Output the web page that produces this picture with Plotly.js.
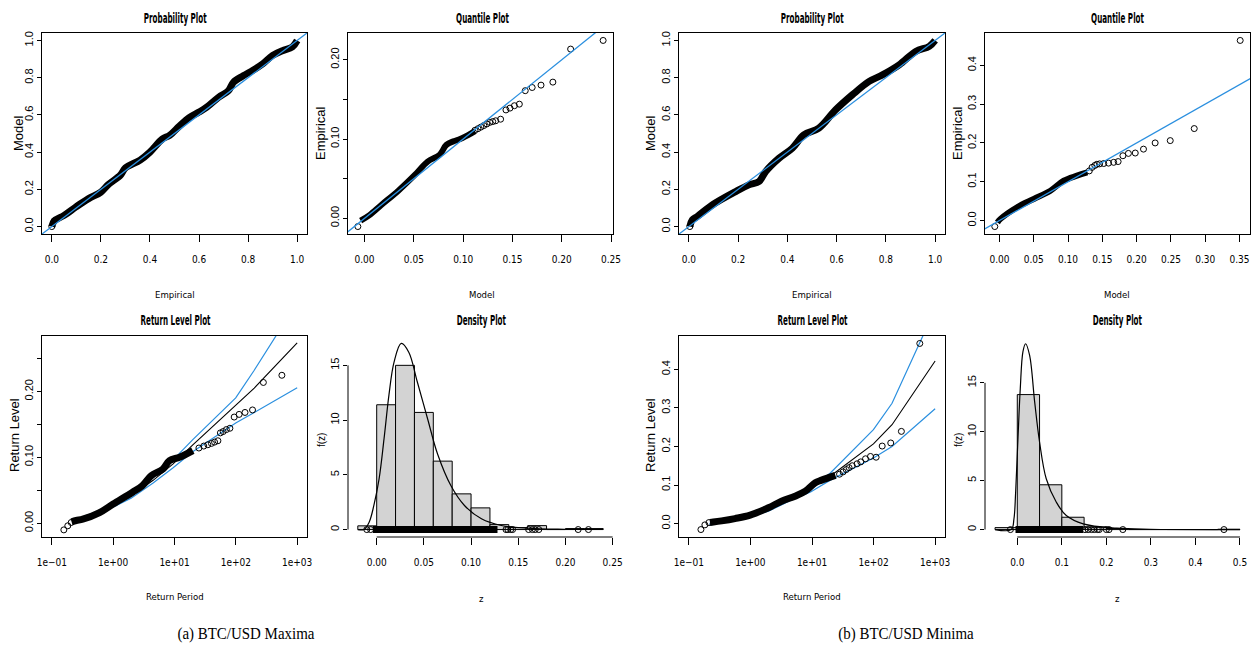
<!DOCTYPE html>
<html><head><meta charset="utf-8">
<script src="https://cdn.plot.ly/plotly-3.0.1.min.js"></script>
<style>html,body{margin:0;padding:0;background:#fff;}#chart{width:1254px;height:648px;}</style>
</head><body><div id="chart"></div>
<script>
// ================= DATA =================
// (a) Maxima - Probability plot: dense band of points (Empirical, Model)
const probEmpA = [0.000, 0.010, 0.050, 0.100, 0.150, 0.200, 0.230, 0.280, 0.300, 0.360, 0.400, 0.450, 0.480, 0.520, 0.560, 0.600, 0.630, 0.680, 0.720, 0.740, 0.780, 0.820, 0.860, 0.900, 0.940, 0.980, 1.000];
const probModA = [0.000, 0.030, 0.060, 0.107, 0.150, 0.185, 0.225, 0.277, 0.315, 0.357, 0.400, 0.470, 0.490, 0.540, 0.585, 0.615, 0.640, 0.695, 0.730, 0.775, 0.810, 0.840, 0.875, 0.920, 0.945, 0.965, 1.000];
// (b) Minima - Probability plot
const probEmpB = [0.004, 0.014, 0.034, 0.095, 0.190, 0.244, 0.285, 0.312, 0.366, 0.420, 0.467, 0.528, 0.596, 0.664, 0.732, 0.786, 0.854, 0.921, 0.976, 1.000];
const probModB = [0.000, 0.036, 0.054, 0.116, 0.188, 0.224, 0.242, 0.296, 0.367, 0.421, 0.493, 0.529, 0.627, 0.708, 0.780, 0.815, 0.869, 0.941, 0.968, 1.000];

// (a) Quantile plot: dense band (Model, Empirical) and single points
const qBandModA = [-0.004, 0.005, 0.017, 0.034, 0.051, 0.064, 0.076, 0.083, 0.090, 0.095, 0.105, 0.112];
const qBandEmpA = [-0.003, 0.004, 0.0168, 0.0345, 0.0547, 0.0716, 0.080, 0.0926, 0.097, 0.099, 0.105, 0.110];
const qPtsModA = [-0.0068, 0.112, 0.115, 0.118, 0.121, 0.124, 0.127, 0.130, 0.133, 0.138, 0.1434, 0.1475, 0.152, 0.157, 0.163, 0.170, 0.179, 0.191, 0.209, 0.242];
const qPtsEmpA = [-0.0105, 0.111, 0.113, 0.115, 0.117, 0.119, 0.121, 0.122, 0.123, 0.125, 0.1367, 0.139, 0.142, 0.144, 0.161, 0.165, 0.168, 0.1718, 0.2135, 0.2244];
// (b) Quantile plot
const qBandModB = [-0.003, 0.0015, 0.0257, 0.050, 0.0743, 0.0937, 0.113, 0.128];
const qBandEmpB = [-0.005, 0.0043, 0.0343, 0.0557, 0.077, 0.1028, 0.1156, 0.124];
const qPtsModB = [-0.0068, 0.131, 0.135, 0.139, 0.142, 0.146, 0.152, 0.159, 0.1665, 0.173, 0.180, 0.188, 0.198, 0.210, 0.227, 0.249, 0.284, 0.351];
const qPtsEmpB = [-0.0154, 0.128, 0.137, 0.142, 0.145, 0.146, 0.147, 0.148, 0.150, 0.152, 0.167, 0.173, 0.174, 0.184, 0.200, 0.206, 0.237, 0.464];
// 45-degree reference line end points (axis extent)
const diagProb = [-0.1, 1.1];
const diagQA = [-0.05, 0.3];
const diagQB = [-0.05, 0.4];

// (a) Return level plot
const rlPeriods = [0.217, 0.434, 1.09, 1.96, 4.48, 9.49, 19.5, 99.5, 199.5, 999.5];
const rlFitA = [0.002, 0.012, 0.028, 0.041, 0.065, 0.090, 0.118, 0.178, 0.205, 0.2736];
const rlUpA  = [0.004, 0.014, 0.030, 0.044, 0.069, 0.096, 0.126, 0.190, 0.232, 0.335];
const rlLoA  = [0.000, 0.010, 0.026, 0.038, 0.061, 0.084, 0.108, 0.152, 0.168, 0.2056];
const rlBandPerA = [0.21, 0.25, 0.32, 0.6, 1.0, 2.07, 3.0, 4.17, 6.46, 8.3, 12.1, 19.9];
const rlBandLevA = [0.002, 0.004, 0.006, 0.016, 0.029, 0.047, 0.057, 0.072, 0.082, 0.095, 0.100, 0.110];
const rlPtsPerA = [0.157, 0.182, 0.207, 25, 30, 35, 40, 45, 51, 56, 62, 70, 80, 94, 113, 141, 187, 281, 563];
const rlPtsLevA = [-0.0102, -0.004, 0.001, 0.114, 0.117, 0.119, 0.121, 0.123, 0.125, 0.137, 0.139, 0.142, 0.144, 0.161, 0.165, 0.168, 0.1718, 0.2135, 0.2244];
// (b) Return level plot
const rlFitB = [-0.002, 0.008, 0.022, 0.034, 0.063, 0.090, 0.122, 0.2065, 0.2563, 0.4215];
const rlUpB  = [0.000, 0.010, 0.024, 0.037, 0.067, 0.096, 0.130, 0.2434, 0.312, 0.556];
const rlLoB  = [-0.004, 0.006, 0.020, 0.032, 0.060, 0.082, 0.112, 0.170, 0.200, 0.2976];
const rlBandPerB = [0.22, 0.25, 0.34, 0.56, 0.99, 1.96, 3.2, 5.3, 7.8, 11.3, 14, 18.6, 24];
const rlBandLevB = [0.003, 0.004, 0.007, 0.013, 0.022, 0.041, 0.058, 0.071, 0.084, 0.106, 0.112, 0.119, 0.125];
const rlPtsPerB = [0.157, 0.182, 0.212, 28, 32, 36, 40, 45, 54, 62, 74, 89, 110, 138, 190, 283, 563];
const rlPtsLevB = [-0.0155, -0.0034, 0.0026, 0.128, 0.134, 0.140, 0.145, 0.150, 0.155, 0.160, 0.168, 0.174, 0.172, 0.201, 0.209, 0.239, 0.467];

// (a) Density plot: histogram (left edges, density), fitted curve, rug
const histLeftA = [-0.02, 0.00, 0.02, 0.04, 0.06, 0.08, 0.10, 0.12, 0.14, 0.16, 0.18, 0.20, 0.22];
const histDensA = [0.34, 11.4, 15.0, 10.7, 6.25, 3.26, 1.98, 0.45, 0.18, 0.36, 0.0, 0.09, 0.09];
const binWidthA = 0.02;
const densXA = [-0.02, -0.0135, -0.008, -0.003, 0.0025, 0.0078, 0.013, 0.0184, 0.026, 0.034, 0.043, 0.054, 0.0645, 0.0787, 0.093, 0.111, 0.132, 0.160, 0.199, 0.24];
const densYA = [0, 0, 0.67, 2.2, 4.6, 8.3, 12.3, 15.3, 17.0, 16.2, 13.5, 10.1, 6.9, 4.0, 2.2, 0.98, 0.37, 0.12, 0.03, 0.01];
const rugBandA = [-0.004, 0.128];
const rugPtsA = [-0.0105, -0.0064, 0.137, 0.139, 0.142, 0.144, 0.161, 0.165, 0.168, 0.1718, 0.2135, 0.2244];
// (b) Density plot
const histLeftB = [-0.05, 0.00, 0.05, 0.10, 0.15, 0.20, 0.25, 0.30, 0.35, 0.40, 0.45];
const histDensB = [0.20, 13.8, 4.58, 1.26, 0.25, 0.11, 0, 0, 0, 0, 0.036];
const binWidthB = 0.05;
const densXB = [-0.05, -0.0135, -0.0075, -0.0037, 0.0015, 0.0067, 0.0127, 0.0187, 0.0277, 0.039, 0.050, 0.065, 0.0877, 0.11, 0.148, 0.223, 0.298, 0.5];
const densYB = [0, 0, 1.09, 3.8, 9.3, 14.4, 18.2, 19.0, 17.8, 13.05, 8.95, 5.2, 2.8, 1.43, 0.58, 0.14, 0.03, 0];
const rugBandB = [-0.004, 0.148];
const rugPtsB = [-0.0154, 0.152, 0.159, 0.1665, 0.173, 0.180, 0.184, 0.200, 0.206, 0.237, 0.464];

// Tick values and labels
const probTicks = [0, 0.2, 0.4, 0.6, 0.8, 1.0];
const probLabels = ['0.0', '0.2', '0.4', '0.6', '0.8', '1.0'];
const qaXTicks = [0, 0.05, 0.10, 0.15, 0.20, 0.25];
const qaXLabels = ['0.00', '0.05', '0.10', '0.15', '0.20', '0.25'];
const qaYTicks = [0, 0.05, 0.10, 0.15, 0.20];
const qaYLabels = ['0.00', '', '0.10', '', '0.20'];
const raYTicks = [0, 0.05, 0.10, 0.15, 0.20, 0.25];
const raYLabels = ['0.00', '', '0.10', '', '0.20', ''];
const rpTicks = [0.1, 1, 10, 100, 1000];
const rpLabels = ['1e\u221201', '1e+00', '1e+01', '1e+02', '1e+03'];
const qbXTicks = [0, 0.05, 0.10, 0.15, 0.20, 0.25, 0.30, 0.35];
const qbXLabels = ['0.00', '0.05', '0.10', '0.15', '0.20', '0.25', '0.30', '0.35'];
const qbYTicks = [0, 0.1, 0.2, 0.3, 0.4];
const qbYLabels = ['0.0', '0.1', '0.2', '0.3', '0.4'];
const dbXTicks = [0, 0.1, 0.2, 0.3, 0.4, 0.5];
const dbXLabels = ['0.0', '0.1', '0.2', '0.3', '0.4', '0.5'];
const densYTicks = [0, 5, 10, 15];
const densYLabels = ['0', '5', '10', '15'];

// ================= LAYOUT =================
const W = 1254, H = 648;
const BLUE = '#2a8fdf';
const XF = '"DejaVu Sans Condensed", "Liberation Sans", Arial, sans-serif';
const YF = '"Liberation Sans", Arial, sans-serif';
const cols = [[42, 307], [348, 613], [679, 945], [985, 1250]];
const rows = [[33, 234], [336, 537]];
function dx(c) { return [c[0] / W, c[1] / W]; }
function dy(r) { return [1 - r[1] / H, 1 - r[0] / H]; }

function xAxis(n, col, row, range, tv, tt, boxed, type) {
  return {
    domain: dx(col), anchor: 'y' + n, range: range, type: type || 'linear',
    tickmode: 'array', tickvals: tv, ticktext: tt,
    ticks: 'outside', ticklen: 7, tickwidth: 1, tickcolor: '#000',
    ticklabelstandoff: 9,
    tickfont: { family: XF, size: 10, color: '#000' },
    showline: boxed, mirror: boxed, linecolor: '#000', linewidth: 1,
    showgrid: false, zeroline: false, fixedrange: true
  };
}
function yAxis(n, col, row, range, tv, tt, boxed) {
  return {
    domain: dy(row), anchor: 'x' + n, range: range,
    tickmode: 'array', tickvals: tv, ticktext: tt, tickangle: -90,
    ticks: 'outside', ticklen: 4, tickwidth: 1, tickcolor: '#000',
    tickfont: { family: YF, size: 11, color: '#000' },
    showline: boxed, mirror: boxed, linecolor: '#000', linewidth: 1,
    showgrid: false, zeroline: false, fixedrange: true
  };
}

const layout = {
  width: W, height: H, margin: { l: 0, r: 0, t: 0, b: 0 },
  paper_bgcolor: '#fff', plot_bgcolor: 'rgba(0,0,0,0)', showlegend: false,
  xaxis:  xAxis(1, cols[0], rows[0], [-0.04, 1.04], probTicks, probLabels, true),
  yaxis:  yAxis(1, cols[0], rows[0], [-0.04, 1.04], probTicks, probLabels, true),
  xaxis2: xAxis(2, cols[1], rows[0], [-0.0168, 0.252], qaXTicks, qaXLabels, true),
  yaxis2: yAxis(2, cols[1], rows[0], [-0.0199, 0.2338], qaYTicks, qaYLabels, true),
  xaxis3: xAxis(3, cols[0], rows[1], [-1.16, 3.16], rpTicks, rpLabels, true, 'log'),
  yaxis3: yAxis(3, cols[0], rows[1], [-0.021, 0.284], raYTicks, raYLabels, true),
  xaxis4: xAxis(4, cols[1], rows[1], [-0.0304, 0.2504], qaXTicks, qaXLabels, false),
  yaxis4: yAxis(4, cols[1], rows[1], [-0.68, 17.68], densYTicks, densYLabels, false),
  xaxis5: xAxis(5, cols[2], rows[0], [-0.04, 1.04], probTicks, probLabels, true),
  yaxis5: yAxis(5, cols[2], rows[0], [-0.04, 1.04], probTicks, probLabels, true),
  xaxis6: xAxis(6, cols[3], rows[0], [-0.0211, 0.3653], qbXTicks, qbXLabels, true),
  yaxis6: yAxis(6, cols[3], rows[0], [-0.0346, 0.4832], qbYTicks, qbYLabels, true),
  xaxis7: xAxis(7, cols[2], rows[1], [-1.16, 3.16], rpTicks, rpLabels, true, 'log'),
  yaxis7: yAxis(7, cols[2], rows[1], [-0.0348, 0.4863], qbYTicks, qbYLabels, true),
  xaxis8: xAxis(8, cols[3], rows[1], [-0.0725, 0.5225], dbXTicks, dbXLabels, false),
  yaxis8: yAxis(8, cols[3], rows[1], [-0.76, 19.79], densYTicks, densYLabels, false),
  shapes: [], annotations: []
};

// R-style axis lines for the density panels (span first..last tick)
[[4, qaXTicks, densYTicks], [8, dbXTicks, densYTicks]].forEach(function (d) {
  const n = d[0];
  layout.shapes.push({ type: 'line', xref: 'x' + n, yref: 'y' + n + ' domain', x0: d[1][0], x1: d[1][d[1].length - 1], y0: 0, y1: 0, line: { color: '#000', width: 1 } });
  layout.shapes.push({ type: 'line', xref: 'x' + n + ' domain', yref: 'y' + n, x0: 0, x1: 0, y0: d[2][0], y1: d[2][d[2].length - 1], line: { color: '#000', width: 1 } });
});

// Text: panel titles, axis titles, captions (horizontal squeeze mimics the narrow reference lettering)
const annSqueeze = [];
function ann(text, x, y, font, angle, squeeze) {
  layout.annotations.push({ text: text, xref: 'paper', yref: 'paper', x: x / W, y: 1 - y / H,
    xanchor: 'center', yanchor: 'middle', showarrow: false, textangle: angle || 0, font: font });
  annSqueeze.push(squeeze || 1);
}
const TF = { family: XF, size: 14, color: '#000', weight: 'bold' };
const XT = { family: XF, size: 9.5, color: '#000' };
const YT = { family: YF, size: 13, color: '#000' };
const panelTitles = ['Probability Plot', 'Quantile Plot', 'Return Level Plot', 'Density Plot'];
const xTitles = ['Empirical', 'Model', 'Return Period', 'z'];
const yTitles = ['Model', 'Empirical', 'Return Level', 'f(z)'];
const titleX = [[175, 482, 175, 481], [812, 1117, 812, 1117]];
const titleY = [18, 18, 320, 320];
const xTitleY = [294, 294, 596, 598];
const yTitleX = [[18, 320, 14, 321], [650, 957, 650, 958]];
const yTitleY = [133, 133, 435, 440];
for (let s = 0; s < 2; s++) {
  for (let i = 0; i < 4; i++) {
    ann(panelTitles[i], titleX[s][i], titleY[i], TF, 0, 0.57);
    ann(xTitles[i], titleX[s][i], xTitleY[i], XT, 0, 1);
    ann(yTitles[i], yTitleX[s][i], yTitleY[i], i === 3 ? { family: YF, size: 10, color: '#000' } : YT, -90, 1);
  }
}
const CF = { family: '"Liberation Serif", "Times New Roman", serif', size: 17, color: '#000' };
ann('(a) BTC/USD Maxima', 246, 633, CF, 0, 0.88);
ann('(b) BTC/USD Minima', 906, 633, CF, 0, 0.88);

// ================= TRACES =================
const MK = { symbol: 'circle-open', size: 6, color: '#000', line: { width: 1, color: '#000' } };
function band(x, y, n, w) { return { x: x, y: y, xaxis: 'x' + n, yaxis: 'y' + n, mode: 'lines', line: { color: '#000', width: w || 7, shape: 'spline' }, hoverinfo: 'skip' }; }
function pts(x, y, n) { return { x: x, y: y, xaxis: 'x' + n, yaxis: 'y' + n, mode: 'markers', marker: MK, hoverinfo: 'skip' }; }
function ln(x, y, n, color, w, shape) { return { x: x, y: y, xaxis: 'x' + n, yaxis: 'y' + n, mode: 'lines', line: { color: color, width: w || 1.2, shape: shape || 'linear' }, hoverinfo: 'skip' }; }
function zeros(a) { return a.map(function () { return 0; }); }
function hist(left, dens, w, n) { return { type: 'bar', x: left, y: dens, width: w, offset: 0, xaxis: 'x' + n, yaxis: 'y' + n, marker: { color: '#d3d3d3', line: { color: '#000', width: 1 } }, hoverinfo: 'skip' }; }

const traces = [
  // (a) probability
  band(probEmpA, probModA, 1, 7), pts(probEmpA.slice(0, 2), probModA.slice(0, 2), 1),
  ln(diagProb, diagProb, 1, BLUE, 1.3),
  // (a) quantile
  band(qBandModA, qBandEmpA, 2, 6), pts(qPtsModA, qPtsEmpA, 2),
  ln(diagQA, diagQA, 2, BLUE, 1.3),
  // (a) return level
  ln(rlPeriods, rlFitA, 3, '#000', 1.1), ln(rlPeriods, rlUpA, 3, BLUE, 1.2), ln(rlPeriods, rlLoA, 3, BLUE, 1.2),
  band(rlBandPerA, rlBandLevA, 3, 7), pts(rlPtsPerA, rlPtsLevA, 3),
  // (a) density
  hist(histLeftA, histDensA, binWidthA, 4), ln(densXA, densYA, 4, '#000', 1.2, 'spline'),
  band(rugBandA, zeros(rugBandA), 4, 7), pts(rugPtsA, zeros(rugPtsA), 4),
  // (b) probability
  band(probEmpB, probModB, 5, 7), pts(probEmpB.slice(0, 1), probModB.slice(0, 1), 5),
  ln(diagProb, diagProb, 5, BLUE, 1.3),
  // (b) quantile
  band(qBandModB, qBandEmpB, 6, 6), pts(qPtsModB, qPtsEmpB, 6),
  ln(diagQB, diagQB, 6, BLUE, 1.3),
  // (b) return level
  ln(rlPeriods, rlFitB, 7, '#000', 1.1), ln(rlPeriods, rlUpB, 7, BLUE, 1.2), ln(rlPeriods, rlLoB, 7, BLUE, 1.2),
  band(rlBandPerB, rlBandLevB, 7, 7), pts(rlPtsPerB, rlPtsLevB, 7),
  // (b) density
  hist(histLeftB, histDensB, binWidthB, 8), ln(densXB, densYB, 8, '#000', 1.2, 'spline'),
  band(rugBandB, zeros(rugBandB), 8, 7), pts(rugPtsB, zeros(rugPtsB), 8)
];

Plotly.newPlot('chart', traces, layout, { displayModeBar: false, staticPlot: true }).then(function (gd) {
  const nodes = gd.querySelectorAll('.annotation');
  nodes.forEach(function (node, i) {
    const f = annSqueeze[i];
    if (f && f !== 1) {
      const t = node.querySelector('text.annotation-text');
      if (t) {
        t.style.transformBox = 'fill-box';
        t.style.transformOrigin = 'center';
        t.style.transform = 'scaleX(' + f + ')';
      }
    }
  });
});
</script>
</body></html>
